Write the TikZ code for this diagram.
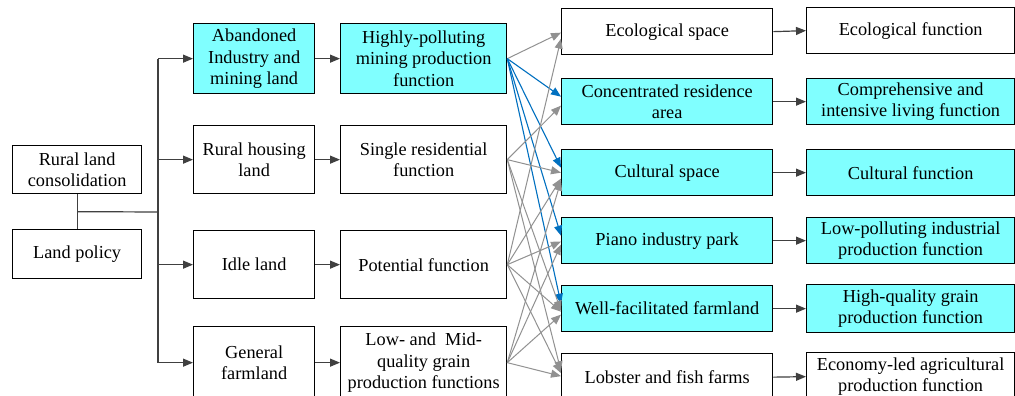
\documentclass[tikz,border=0pt]{standalone}
\usepackage{fontspec}
\setmainfont{Liberation Serif}
\usetikzlibrary{arrows.meta,calc}
\definecolor{boxcyan}{RGB}{128,255,255}
\definecolor{flowblue}{RGB}{0,112,192}
\definecolor{flowgray}{RGB}{145,145,145}
\definecolor{linkdark}{RGB}{64,64,64}
\tikzset{
  box/.style={draw=black, line width=1.3pt, inner sep=1pt, align=center,
    font=\fontsize{18.3}{21.5}\selectfont, anchor=north west},
  hot/.style={box, fill=boxcyan},
  link/.style={draw=linkdark, line width=1.2pt, -{Triangle[length=10pt,width=8pt]}},
  gflow/.style={draw=flowgray, line width=1pt, -{Triangle[length=10pt,width=8pt]}},
  bflow/.style={draw=flowblue, line width=1.1pt, -{Triangle[length=10pt,width=8pt]}},
}
\newcommand{\boxat}[6]{% style, name, x1, y1, x2, y2 (px, y downwards) then text
  \node[#1, minimum width=#5pt-#3pt, minimum height=#6pt-#4pt] (#2) at (#3pt,-#4pt)}
\begin{document}
\begin{tikzpicture}[x=1pt,y=1pt]
\useasboundingbox (0,0) rectangle (1015,-396);
\fill[white] (0,0) rectangle (1015,-396);

% origin of the process
\boxat{box}{rlc}{12}{145}{141}{193} {Rural land\\consolidation};
\boxat{box}{lp}{12}{229}{141}{278} {Land policy};

% land types
\boxat{hot}{a1}{193}{23}{314}{93} {Abandoned\\Industry and\\mining land};
\boxat{box}{a2}{193}{125}{314}{193} {Rural housing\\land};
\boxat{box}{a3}{193}{230}{314}{298} {Idle land};
\boxat{box}{a4}{193}{326}{314}{398} {General\\farmland};

% original functions
\boxat{hot}{s1}{340}{23}{506}{93} {Highly-polluting\\mining production\\function};
\boxat{box}{s2}{340}{125}{506}{193} {Single residential\\function};
\boxat{box}{s3}{340}{230}{506}{298} {Potential function};
\boxat{box}{s4}{340}{326}{506}{398} {Low- and\ \ Mid-\\quality grain\\production functions};

% reorganised spaces
\boxat{box}{t1}{561}{8}{772}{54} {Ecological space};
\boxat{hot}{t2}{561}{78}{772}{124} {Concentrated residence\\area};
\boxat{hot}{t3}{561}{149}{772}{195} {Cultural space};
\boxat{hot}{t4}{561}{217}{772}{263} {Piano industry park};
\boxat{hot}{t5}{561}{285}{772}{331} {Well-facilitated farmland};
\boxat{box}{t6}{561}{353}{772}{400} {Lobster and fish farms};

% resulting functions
\boxat{box}{f1}{806}{7}{1014}{53} {Ecological function};
\boxat{hot}{f2}{806}{78}{1014}{124} {Comprehensive and\\intensive living function};
\boxat{hot}{f3}{806}{149}{1014}{195} {Cultural function};
\boxat{hot}{f4}{806}{217}{1014}{263} {Low-polluting industrial\\production function};
\boxat{hot}{f5}{806}{284}{1014}{332} {High-quality grain\\production function};
\boxat{box}{f6}{806}{352}{1014}{400} {Economy-led agricultural\\production function};

% trunk from the two drivers to the land types
\coordinate (mid) at ($(rlc.south)!0.5!(lp.north)$);
\coordinate (trunk) at (158,-212);
\draw[linkdark, line width=1.2pt] (rlc.south) -- (lp.north);
\draw[linkdark, line width=1.2pt] (mid) -- (trunk);
\draw[linkdark, line width=1.2pt] (trunk |- a1.west) -- (trunk |- a4.west);
\foreach \n in {a1,a2,a3,a4} \draw[link] (trunk |- \n.west) -- (\n.west);

% land type -> original function
\foreach \i in {1,2,3,4} \draw[link] (a\i.east) -- (s\i.west);
% space -> function
\foreach \i in {1,...,6} \draw[link] (t\i.east) -- (f\i.west);

% transformation of functions
\draw[gflow] (s1.east) -- ([yshift=-1pt]t1.west);
\foreach \t in {t2,t3,t4,t5} \draw[bflow] (s1.east) -- ([yshift=5pt]\t.west);

\foreach \t/\d in {t2/-4, t3/0, t5/-2, t6/6} \draw[gflow] (s2.east) -- ([yshift=\d pt]\t.west);
\foreach \t/\d in {t1/-7, t3/-6, t4/-1, t5/-3, t6/4} \draw[gflow] (s3.east) -- ([yshift=\d pt]\t.west);
\foreach \t/\d in {t3/-8, t4/-4, t5/-6, t6/1} \draw[gflow] (s4.east) -- ([yshift=\d pt]\t.west);
\end{tikzpicture}
\end{document}
